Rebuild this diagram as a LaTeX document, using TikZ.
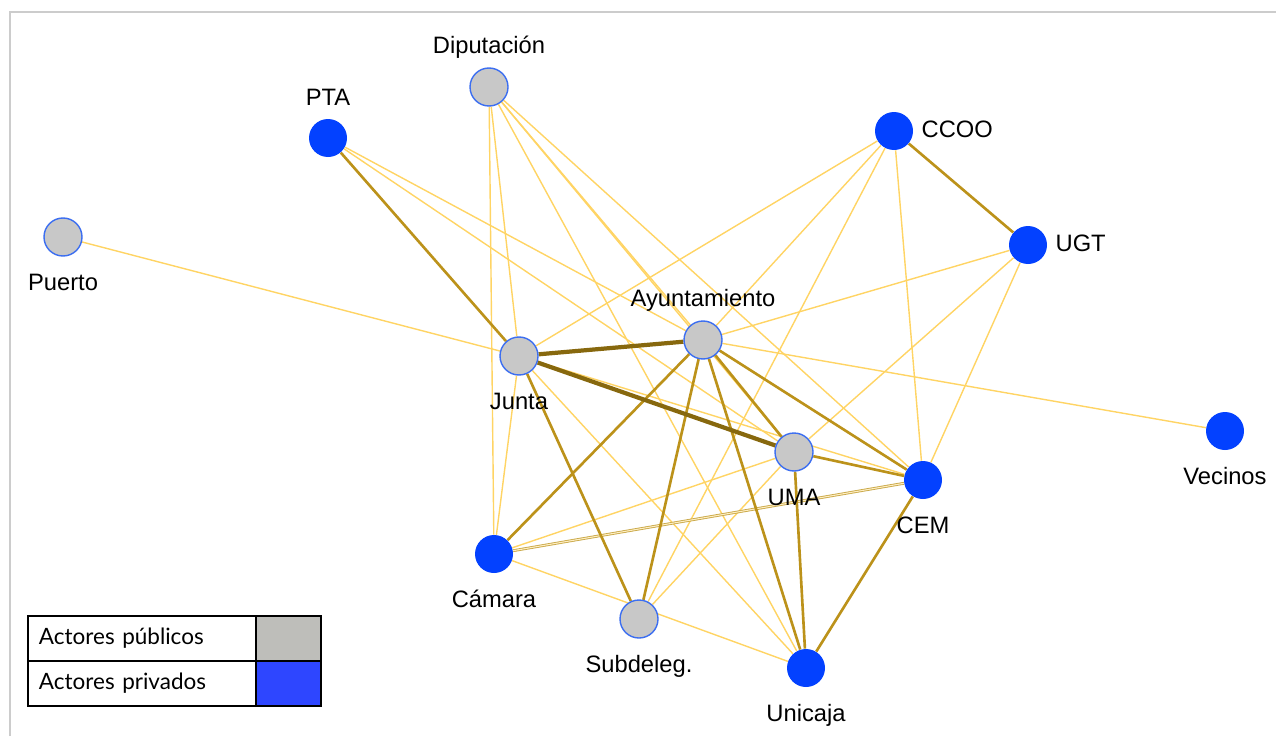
\documentclass[tikz,border=0pt]{standalone}
\usepackage{fontspec}
\setmainfont{Liberation Sans}
\newfontfamily\legfont{Lato}
\usetikzlibrary{positioning}
\pgfdeclarelayer{edges}
\pgfsetlayers{edges,main}

\definecolor{nodegray}{RGB}{200,200,200}
\definecolor{rimblue}{RGB}{60,110,240}
\definecolor{privblue}{RGB}{3,65,255}
\definecolor{weakgold}{RGB}{255,212,100}
\definecolor{midgold}{RGB}{188,146,26}
\definecolor{stronggold}{RGB}{135,104,14}
\definecolor{leggray}{RGB}{190,190,186}
\definecolor{legblue}{RGB}{46,70,255}
\definecolor{framegray}{RGB}{204,204,204}

\begin{document}
\begin{tikzpicture}[
    actor/.style={circle, minimum size=0.76cm, inner sep=0pt},
    pub/.style={actor, fill=nodegray, draw=rimblue, line width=0.8pt},
    priv/.style={actor, fill=privblue},
    lbl/.style={font=\fontsize{13.5}{16}\selectfont, text height=10pt, text depth=3pt, inner sep=1pt},
    up/.style={label={[lbl, label distance=3.5pt]above:#1}},
    down/.style={label={[lbl, label distance=8pt]below:#1}},
    side/.style={label={[lbl, label distance=3.5pt]right:#1}},
    weak/.style={draw=weakgold, line width=0.8pt},
    mid/.style={draw=midgold, line width=1.5pt},
    strong/.style={draw=stronggold, line width=2.4pt},
    twin/.style={draw=midgold!80, line width=0.5pt, double=weakgold!40, double distance=0.6pt},
    legtext/.style={font=\legfont\fontsize{12.8}{15}\selectfont, minimum width=4.56cm, minimum height=0.9cm,
      text width=4.4cm, align=left, inner sep=0pt, outer sep=0pt},
    swatch/.style={minimum width=1.3cm, minimum height=0.9cm, inner sep=0pt, outer sep=0pt},
  ]
    \useasboundingbox (0,0) rectangle (25.52,-14.72);
    \draw[framegray, line width=1.1pt] (0.2,-14.72) |- (25.52,-0.24);

    % actors
    \node[pub, up={Diputación}] (dip) at (9.78,-1.74) {};
    \node[priv, up={PTA}] (pta) at (6.56,-2.76) {};
    \node[priv, side={CCOO}] (ccoo) at (17.88,-2.62) {};
    \node[priv, side={UGT}] (ugt) at (20.56,-4.90) {};
    \node[pub, down={Puerto}] (puerto) at (1.26,-4.74) {};
    \node[pub, up={Ayuntamiento}] (ayu) at (14.06,-6.80) {};
    \node[pub, down={Junta}] (junta) at (10.38,-7.12) {};
    \node[pub, down={UMA}] (uma) at (15.88,-9.04) {};
    \node[priv, down={CEM}] (cem) at (18.46,-9.60) {};
    \node[priv, down={Vecinos}] (vec) at (24.50,-8.62) {};
    \node[priv, down={Cámara}] (cam) at (9.88,-11.08) {};
    \node[pub, down={Subdeleg.}] (sub) at (12.78,-12.38) {};
    \node[priv, down={Unicaja}] (uni) at (16.12,-13.36) {};

    % ties
    \begin{pgfonlayer}{edges}
      \draw[weak] (puerto) -- (junta);
      \draw[weak] (dip) -- (cam);
      \draw[weak] (dip) -- (junta);
      \draw[weak] (dip) -- (ayu);
      \draw[weak] (dip) -- (uma);
      \draw[weak] (dip) -- (uni);
      \draw[weak] (dip) -- (cem);
      \draw[weak] (pta) -- (ayu);
      \draw[weak] (pta) -- (uma);
      \draw[weak] (ccoo) -- (junta);
      \draw[weak] (ccoo) -- (ayu);
      \draw[weak] (ccoo) -- (sub);
      \draw[weak] (ccoo) -- (cem);
      \draw[weak] (ugt) -- (ayu);
      \draw[weak] (ugt) -- (uma);
      \draw[weak] (ugt) -- (cem);
      \draw[weak] (ayu) -- (vec);
      \draw[weak] (junta) -- (cem);
      \draw[weak] (junta) -- (cam);
      \draw[weak] (junta) -- (uni);
      \draw[weak] (cam) -- (uma);
      \draw[weak] (cam) -- (uni);
      \draw[weak] (sub) -- (uma);
      \draw[twin] (cam) -- (cem);
      \draw[mid] (pta) -- (junta);
      \draw[mid] (ccoo) -- (ugt);
      \draw[mid] (ayu) -- (cam);
      \draw[mid] (ayu) -- (sub);
      \draw[mid] (ayu) -- (uni);
      \draw[mid] (ayu) -- (uma);
      \draw[mid] (ayu) -- (cem);
      \draw[mid] (junta) -- (sub);
      \draw[mid] (uma) -- (cem);
      \draw[mid] (uma) -- (uni);
      \draw[mid] (cem) -- (uni);
      \draw[strong] (junta) -- (ayu);
      \draw[strong] (junta) -- (uma);
    \end{pgfonlayer}

    % legend
    \node[legtext, anchor=north west] (pubtxt) at (0.56,-12.32) {\hspace*{0.14cm}Actores públicos};
    \node[legtext, below=0pt of pubtxt] (privtxt) {\hspace*{0.14cm}Actores privados};
    \node[swatch, fill=leggray, right=0pt of pubtxt] (pubbox) {};
    \node[swatch, fill=legblue, right=0pt of privtxt] (privbox) {};
    \draw[line width=0.6pt] (pubtxt.south west) -- (pubbox.south east);
    \draw[line width=0.6pt] (pubbox.north west) -- (privbox.south west);
    \draw[line width=1.1pt] (pubtxt.north west) rectangle (privbox.south east);
\end{tikzpicture}
\end{document}
